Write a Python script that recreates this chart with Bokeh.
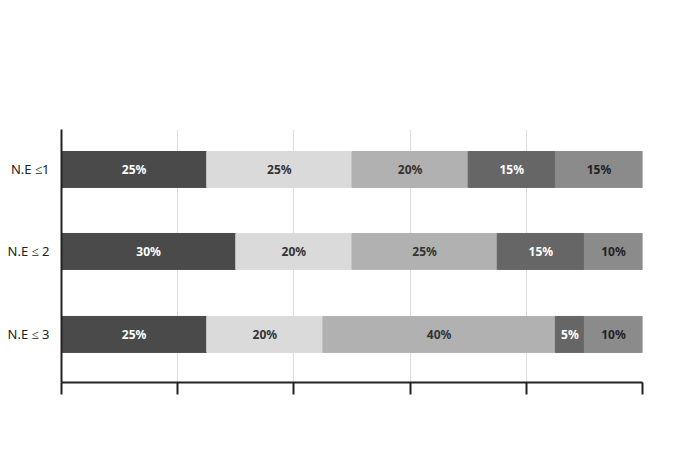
from bokeh.plotting import figure
from bokeh.models import FixedTicker, LinearAxis, Legend, LegendItem, ColumnDataSource, Range1d
from bokeh.core.properties import value
from bokeh.embed import file_html
from bokeh.resources import INLINE

categories = ["N.E ≤1", "N.E ≤ 2", "N.E ≤ 3"]
series = ["Experiencia", "Confianza", "Asesoramiento", "Condiciones comerciales", "Otras"]
values = {
    "Experiencia": [25, 30, 25],
    "Confianza": [25, 20, 20],
    "Asesoramiento": [20, 25, 40],
    "Condiciones comerciales": [15, 15, 5],
    "Otras": [15, 10, 10],
}
colors = ["#4a4a4a", "#dadada", "#b1b1b1", "#666666", "#8b8b8b"]
text_colors = ["white", "#333333", "#333333", "white", "#222222"]
ypos = [0.842, 0.518, 0.190]
bounds = [0.364, 0.723]
FONT = "Noto Sans"

p = figure(frame_width=581, frame_height=253, output_backend="svg", toolbar_location=None,
           x_range=Range1d(0, 100), y_range=Range1d(0, 1),
           min_border_left=61, min_border_top=129, min_border_right=27, min_border_bottom=0)
p.outline_line_color = None
p.ygrid.visible = False
p.xgrid.grid_line_color = "#dddddd"
p.xaxis.ticker = FixedTicker(ticks=[0, 20, 40, 60, 80, 100])
p.xaxis.major_label_text_font_size = "0px"
p.xaxis.major_tick_out = 12
p.xaxis.major_tick_in = 0
p.xaxis.minor_tick_line_color = None
p.xaxis.axis_line_width = 2
p.xaxis.major_tick_line_width = 2
p.xaxis.axis_line_color = "#222222"
p.xaxis.major_tick_line_color = "#222222"

p.yaxis.ticker = FixedTicker(ticks=bounds)
p.yaxis.major_label_text_font_size = "0px"
p.yaxis.major_tick_out = 0
p.yaxis.major_tick_in = 0
p.yaxis.minor_tick_line_color = None
p.yaxis.axis_line_width = 2
p.yaxis.axis_line_color = "#222222"

lab = LinearAxis(ticker=FixedTicker(ticks=ypos),
                 major_label_overrides={y: c for y, c in zip(ypos, categories)},
                 axis_line_color=None, major_tick_line_color=None, minor_tick_line_color=None,
                 major_label_text_font=FONT, major_label_text_font_size="13px",
                 major_label_text_color="#222222", major_label_standoff=6)
p.add_layout(lab, "left")
p.segment(x0=[0.0]*2, x1=[-1.5]*2, y0=bounds, y1=bounds, line_color="#222222", line_width=2)

items = []
left = [0, 0, 0]
for s, c, tc in zip(series, colors, text_colors):
    v = values[s]
    right = [l + x for l, x in zip(left, v)]
    src = ColumnDataSource(dict(y=ypos, left=left, right=right,
                                mid=[(l + r) / 2 for l, r in zip(left, right)],
                                lab=[f"{x}%" for x in v]))
    r = p.hbar(y="y", left="left", right="right", height=0.142, color=c, source=src)
    p.text(x="mid", y="y", text="lab", source=src, text_align="center", text_baseline="middle",
           text_color=tc, text_font=value(FONT), text_font_size="12px", text_font_style="bold")
    items.append(LegendItem(label=s, renderers=[r]))
    left = right

leg = Legend(items=items, orientation="horizontal", location="center",
             label_text_font=FONT, label_text_font_size="13px", label_text_color="#222222",
             glyph_width=13, glyph_height=13, spacing=24, border_line_color=None,
             margin=18, padding=0, background_fill_alpha=0)
p.add_layout(leg, "below")

open("out.html", "w").write(file_html(p, INLINE))
